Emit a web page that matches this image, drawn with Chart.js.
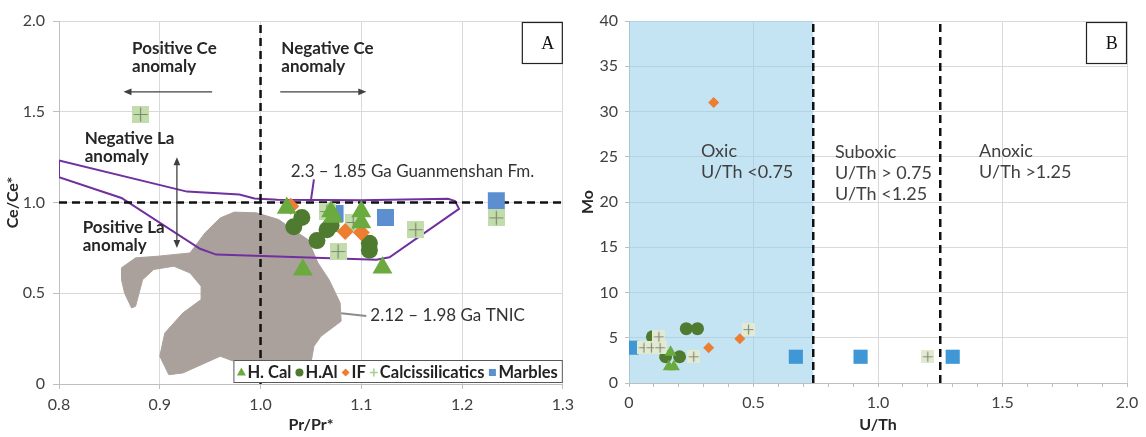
<!DOCTYPE html>
<html><head><meta charset="utf-8">
<script src="https://cdn.jsdelivr.net/npm/chart.js@4.4.0/dist/chart.umd.min.js"></script>
<style>
html,body{margin:0;padding:0;background:#fff;}
#wrap{position:relative;width:1146px;height:437px;background:#fff;}
#ca{position:absolute;left:0;top:0;}
#cb{position:absolute;left:580px;top:0;}
</style></head><body>
<div id="wrap"><canvas id="ca" width="580" height="437"></canvas><canvas id="cb" width="566" height="437"></canvas></div>
<script>
// ---------- Panel A data (Pr/Pr*, Ce/Ce*) ----------
const hCalA = [[1.026,0.97],[1.07,0.95],[1.072,0.92],[1.1,0.95],[1.1,0.89],[1.042,0.63],[1.121,0.64]];
const hAlA  = [[1.041,0.917],[1.033,0.866],[1.066,0.85],[1.07,0.875],[1.056,0.79],[1.108,0.775],[1.108,0.737]];
const ifA   = [[1.03,0.98],[1.084,0.84],[1.1,0.835]];
const calcA = [[0.881,1.485],[1.066,0.95],[1.092,0.89],[1.077,0.73],[1.154,0.85],[1.234,0.915]];
const marbA = [[1.074,0.94],[1.124,0.917],[1.234,1.01]];
const guanmenshan = [[0.8,1.232],[0.927,1.06],[0.979,1.044],[0.994,1.022],[1.017,1.015],[1.10,1.012],[1.186,1.02],[1.193,1.008],[1.197,0.965],[1.128,0.698],[1.115,0.685],[0.956,0.713],[0.94,0.745],[0.862,1.025],[0.8,1.14],[0.8,1.232]];
const guanLeader = [[1.05,1.012],[1.053,1.127]];
const tnic = [[0.862,0.64],[0.876,0.695],[0.898,0.704],[0.93,0.722],[0.945,0.833],[0.96,0.915],[0.974,0.947],[0.996,0.943],[1.018,0.906],[1.032,0.851],[1.047,0.796],[1.057,0.667],[1.068,0.575],[1.079,0.447],[1.08,0.346],[1.06,0.263],[1.053,0.208],[1.05,0.116],[1.043,0.07],[0.996,0.079],[0.96,0.153],[0.923,0.061],[0.909,0.051],[0.9,0.153],[0.905,0.281],[0.923,0.392],[0.941,0.465],[0.941,0.539],[0.93,0.612],[0.914,0.649],[0.894,0.631],[0.883,0.575],[0.876,0.428],[0.872,0.419],[0.865,0.502],[0.862,0.575],[0.862,0.64]];
const tnicLeader = [[1.08,0.39],[1.105,0.375]];
const ceLineA = [[0.8,1.0],[1.3,1.0]];
const prLineA = [[1.0,0],[1.0,2.0]];
const xTicksA = ['0.8','0.9','1.0','1.1','1.2','1.3'];
const yTicksA = ['0','0.5','1.0','1.5','2.0'];

// ---------- Panel B data (U/Th, Mo) ----------
const hCalB = [[0.167,3.4],[0.16,1.8],[0.18,1.8]];
const hAlB  = [[0.094,5.1],[0.23,6],[0.275,6],[0.147,2.9],[0.203,2.9]];
const ifB   = [[0.34,31],[0.32,3.9],[0.445,4.9]];
const calcB = [[0.06,3.9],[0.09,3.9],[0.125,3.9],[0.12,5.1],[0.26,2.9],[0.48,5.9],[1.2,2.9]];
const marbB = [[0.01,3.9],[0.67,2.9],[0.93,2.9],[1.3,2.9]];
const oxicZone = [[0,0],[0,40],[0.74,40],[0.74,0],[0,0]];
const suboxLine = [[0.74,0],[0.74,40]];
const anoxLine = [[1.25,0],[1.25,40]];

const legendNames = ['H. Cal','H.Al','IF','Calcissilicatics','Marbles'];

// ---------- helpers ----------
const FONT = 'Lato, "Open Sans", sans-serif';
Chart.defaults.font.family = FONT;
Chart.defaults.color = '#404040';
function pts(a){ return a.map(p=>({x:p[0],y:p[1]})); }
function plusSquare(size,bg,line){
  const c=document.createElement('canvas'); c.width=size; c.height=size;
  const g=c.getContext('2d'); g.fillStyle=bg; g.fillRect(0,0,size,size);
  g.strokeStyle=line; g.lineWidth=1.2; g.beginPath();
  const m=size/2;
  g.moveTo(m,1.5); g.lineTo(m,size-1.5); g.moveTo(1.5,m); g.lineTo(size-1.5,m); g.stroke();
  return c;
}
function ser(data,style,r,color,order){
  return {type:'scatter',data:pts(data),pointStyle:style,pointRadius:r,pointHoverRadius:r,
    backgroundColor:color,borderColor:color,borderWidth:0,order:order};
}
function lineDs(data,color,width,dash,order,fillColor){
  return {type:'scatter',showLine:true,data:pts(data),borderColor:color,borderWidth:width,
    borderDash:dash||[],pointRadius:0,pointHoverRadius:0,tension:0,
    fill:fillColor?'shape':false,backgroundColor:fillColor||'rgba(0,0,0,0)',order:order};
}
function arrowHead(ctx,x1,y1,x2,y2,head){
  const a=Math.atan2(y2-y1,x2-x1);
  ctx.beginPath();
  ctx.moveTo(x2,y2);
  ctx.lineTo(x2-head*Math.cos(a)+head*0.42*Math.sin(a), y2-head*Math.sin(a)-head*0.42*Math.cos(a));
  ctx.lineTo(x2-head*Math.cos(a)-head*0.42*Math.sin(a), y2-head*Math.sin(a)+head*0.42*Math.cos(a));
  ctx.closePath(); ctx.fill();
}
function arrow(ctx,x1,y1,x2,y2,color){
  ctx.save(); ctx.strokeStyle=color; ctx.fillStyle=color; ctx.lineWidth=1.3;
  const a=Math.atan2(y2-y1,x2-x1);
  ctx.beginPath(); ctx.moveTo(x1,y1); ctx.lineTo(x2-6*Math.cos(a),y2-6*Math.sin(a)); ctx.stroke();
  arrowHead(ctx,x1,y1,x2,y2,8);
  ctx.restore();
}
function cornerBox(chart,letter){
  const ctx=chart.ctx, ca=chart.chartArea;
  const w=41,h=42,x=ca.right-w,y=ca.top+1;
  ctx.save(); ctx.fillStyle='#fff'; ctx.fillRect(x,y,w,h);
  ctx.strokeStyle='#222'; ctx.lineWidth=1.2; ctx.strokeRect(x+0.5,y+0.5,w-1,h-1);
  ctx.fillStyle='#111'; ctx.font='18px "Liberation Serif", "DejaVu Serif", serif';
  ctx.textAlign='center'; ctx.textBaseline='middle'; ctx.fillText(letter,x+w*0.63,y+h/2+1);
  ctx.restore();
}
function drawTexts(chart,texts,spacing){
  const ctx=chart.ctx, xs=chart.scales.x, ys=chart.scales.y;
  ctx.save(); ctx.textAlign='left'; ctx.textBaseline='middle';
  texts.forEach(t=>{
    ctx.font=(t.bold?'bold ':'')+t.size+'px '+FONT; ctx.fillStyle=t.color||'#262626';
    const px=xs.getPixelForValue(t.x), py=ys.getPixelForValue(t.y);
    t.lines.forEach((l,i)=>ctx.fillText(l,px,py+i*spacing));
  });
  ctx.restore();
}

// annotation positions (data coordinates)
const textsA = [
  {lines:['Positive Ce','anomaly'],x:0.8725,y:1.85,bold:true,size:17},
  {lines:['Negative Ce','anomaly'],x:1.0206,y:1.85,bold:true,size:17},
  {lines:['Negative La','anomaly'],x:0.8255,y:1.355,bold:true,size:17},
  {lines:['Positive La','anomaly'],x:0.8235,y:0.86,bold:true,size:17},
  {lines:['2.3 – 1.85 Ga Guanmenshan Fm.'],x:1.030,y:1.168,size:17,color:'#333'},
  {lines:['2.12 – 1.98 Ga TNIC'],x:1.109,y:0.38,size:17,color:'#333'}
];
const arrowsA = [[0.952,1.61,0.864,1.61],[1.0196,1.61,1.105,1.61],[0.917,1.0,0.917,1.25],[0.917,1.0,0.917,0.75]];
const textsB = [
  {lines:['Oxic','U/Th <0.75'],x:0.289,y:25.6,size:18,color:'#404040'},
  {lines:['Suboxic','U/Th > 0.75','U/Th <1.25'],x:0.827,y:25.5,size:18,color:'#404040'},
  {lines:['Anoxic','U/Th >1.25'],x:1.406,y:25.6,size:18,color:'#404040'}
];

const plusA = plusSquare(17,'#C2DDAB','#7b8a6c');
const plusB = plusSquare(13,'#E2EBD2','#8a8a7c');

const annotA = {id:'annotA', afterDatasetsDraw(chart){
  const ctx=chart.ctx, xs=chart.scales.x, ys=chart.scales.y, ca=chart.chartArea;
  drawTexts(chart,textsA,18);
  arrowsA.forEach(a=>arrow(ctx,xs.getPixelForValue(a[0]),ys.getPixelForValue(a[1]),xs.getPixelForValue(a[2]),ys.getPixelForValue(a[3]),'#404040'));
  cornerBox(chart,'A');
  // legend
  ctx.save();
  ctx.font='bold 16.5px '+FONT;
  const gap=10, pad=4;
  let total=pad;
  legendNames.forEach(n=>{ total += gap + ctx.measureText(n).width + 4; });
  total += 1;
  const bx=ca.right-total, by=ca.bottom-24, bh=23;
  ctx.fillStyle='#fff'; ctx.fillRect(bx,by,total,bh);
  ctx.strokeStyle='#595959'; ctx.lineWidth=1; ctx.strokeRect(bx+0.5,by+0.5,total-1,bh-1);
  let x=bx+pad; const cy=by+bh/2+1;
  const marks=[
    (cx)=>{ctx.fillStyle='#6BAA3F';ctx.beginPath();ctx.moveTo(cx,cy-5);ctx.lineTo(cx+4.5,cy+3);ctx.lineTo(cx-4.5,cy+3);ctx.closePath();ctx.fill();},
    (cx)=>{ctx.fillStyle='#4E7B30';ctx.beginPath();ctx.arc(cx,cy,4,0,Math.PI*2);ctx.fill();},
    (cx)=>{ctx.fillStyle='#ED7D31';ctx.beginPath();ctx.moveTo(cx,cy-4);ctx.lineTo(cx+4,cy);ctx.lineTo(cx,cy+4);ctx.lineTo(cx-4,cy);ctx.closePath();ctx.fill();},
    (cx)=>{ctx.strokeStyle='#A9CF8E';ctx.lineWidth=1.6;ctx.beginPath();ctx.moveTo(cx-4,cy);ctx.lineTo(cx+4,cy);ctx.moveTo(cx,cy-4);ctx.lineTo(cx,cy+4);ctx.stroke();},
    (cx)=>{ctx.fillStyle='#5B8FCF';ctx.fillRect(cx-3.5,cy-3.5,7,7);}
  ];
  legendNames.forEach((n,i)=>{
    marks[i](x+4);
    ctx.fillStyle='#222'; ctx.textAlign='left'; ctx.textBaseline='middle';
    ctx.fillText(n,x+gap,cy);
    x += gap + ctx.measureText(n).width + 4;
  });
  ctx.restore();
}};
const annotB = {id:'annotB', afterDatasetsDraw(chart){
  drawTexts(chart,textsB,21);
  cornerBox(chart,'B');
}};

const gridCol='#d9d9d9', axCol='#bfbfbf';

new Chart(document.getElementById('ca'),{
  type:'scatter',
  data:{datasets:[
    ser(hCalA,'triangle',11.5,'#6BAA3F',0),
    ser(ifA,'rectRot',8.5,'#ED7D31',1),
    ser(calcA,plusA,8,'#C2DDAB',2),
    ser(hAlA,'circle',8.5,'#4E7B30',3),
    ser(marbA,'rect',12,'#5B8FCF',4),
    lineDs(ceLineA,'#111',2.5,[8,5],5),
    lineDs(prLineA,'#111',2.5,[8,5],5),
    lineDs(guanLeader,'#7030A0',2,[],6),
    lineDs(tnicLeader,'#8c8c8c',2,[],6),
    lineDs(guanmenshan,'#7030A0',2,[],7),
    lineDs(tnic,'#ABA19C',1,[],8,'#ABA19C')
  ]},
  options:{
    responsive:false,animation:false,events:[],
    layout:{padding:{top:21,right:11,left:0,bottom:0}},
    plugins:{legend:{display:false},tooltip:{enabled:false}},
    scales:{
      x:{type:'linear',min:0.8,max:1.3,
        ticks:{stepSize:0.1,padding:6,font:{size:16},color:'#404040',autoSkip:false,
          callback:(v,i)=>xTicksA[i]!==undefined?xTicksA[i]:''},
        grid:{color:gridCol,tickLength:5,tickColor:axCol},border:{color:axCol},
        title:{display:true,text:'Pr/Pr*',font:{size:16,weight:'bold'},color:'#262626',padding:{top:0,bottom:3}},
        afterFit(s){s.height=53;}},
      y:{type:'linear',min:0,max:2,
        ticks:{stepSize:0.5,padding:8,font:{size:16},color:'#404040',
          callback:(v,i)=>yTicksA[i]!==undefined?yTicksA[i]:''},
        grid:{color:gridCol,tickLength:6,tickColor:axCol},border:{color:axCol},
        title:{display:true,text:'Ce/Ce*',font:{size:16,weight:'bold'},color:'#262626',padding:{top:3,bottom:0}},
        afterFit(s){s.width=59;}}
    }
  },
  plugins:[annotA]
});

function clipped(ds){ ds.clip=0; return ds; }
new Chart(document.getElementById('cb'),{
  type:'scatter',
  data:{datasets:[
    clipped(ser(hCalB,'triangle',7,'#6BAA3F',0)),
    clipped(ser(ifB,'rectRot',5.5,'#ED7D31',1)),
    clipped(ser(calcB,plusB,6.5,'#E2EBD2',2)),
    clipped(ser(hAlB,'circle',6.5,'#4E7B30',3)),
    clipped(ser(marbB,'rect',10,'#3F97D6',4)),
    lineDs(suboxLine,'#111',2.5,[8,5],5),
    lineDs(anoxLine,'#111',2.5,[8,5],5),
    lineDs(oxicZone,'rgba(0,0,0,0)',0,[],10,'rgba(150,205,234,0.55)')
  ]},
  options:{
    responsive:false,animation:false,events:[],
    layout:{padding:{top:21,right:19,left:0,bottom:0}},
    plugins:{legend:{display:false},tooltip:{enabled:false}},
    scales:{
      x:{type:'linear',min:0,max:2,
        ticks:{stepSize:0.1,padding:6,font:{size:16},color:'#404040',autoSkip:false,maxRotation:0,
          callback:(v,i)=>i%5===0?(i===0?'0':(i/10).toFixed(1)):''},
        grid:{color:(c)=>c.index%5===0?gridCol:'rgba(0,0,0,0)',tickLength:4,tickColor:axCol},border:{color:axCol},
        title:{display:true,text:'U/Th',font:{size:16,weight:'bold'},color:'#262626',padding:{top:0,bottom:3}},
        afterFit(s){s.height=54;}},
      y:{type:'linear',min:0,max:40,
        ticks:{stepSize:5,padding:7,font:{size:16},color:'#404040'},
        grid:{color:gridCol,tickLength:4,tickColor:axCol},border:{color:axCol},
        title:{display:true,text:'Mo',font:{size:16,weight:'bold',lineHeight:1},color:'#262626',padding:{top:0,bottom:0}},
        afterFit(s){s.width=49;}}
    }
  },
  plugins:[annotB]
});
</script>
</body></html>
